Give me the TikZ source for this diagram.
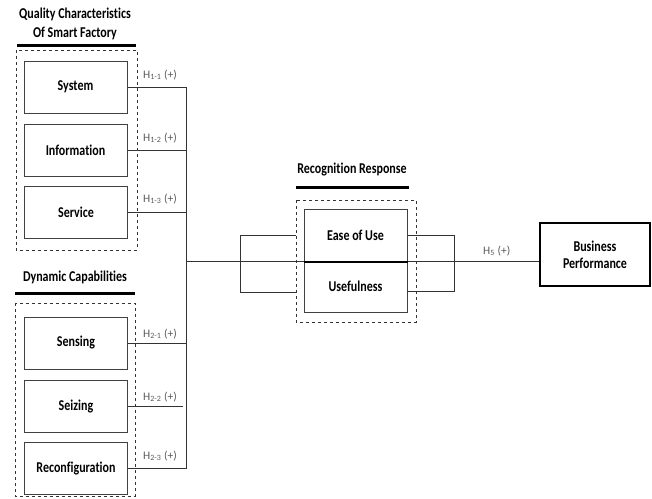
\documentclass[tikz,border=0pt]{standalone}
\usepackage{fontspec}
\setmainfont{Carlito}
\newfontfamily\condfont[FakeStretch=0.8,Ligatures=NoCommon]{Carlito}
\begin{document}
\begin{tikzpicture}[x=1pt,y=-1pt, line cap=butt,
 box/.style={draw=black!75, line width=1pt, minimum width=103pt, minimum height=52pt, inner sep=0pt, font=\condfont\bfseries\fontsize{15}{17}\selectfont},
 grp/.style={draw=black!80, dashed, line width=0.8pt},
 ttl/.style={font=\condfont\bfseries\fontsize{15}{18.5}\selectfont, align=center, inner sep=0pt},
 uline/.style={line width=3pt},
 conn/.style={draw=black!80, line width=0.9pt},
 hlab/.style={font=\fontsize{11.5}{13}\selectfont, text=black!65, inner sep=0pt, anchor=base west}]
\useasboundingbox (0,0) rectangle (652,498);

% titles
\node[ttl] (t1) at (75,24) {Quality Characteristics\\Of Smart Factory};
\draw[uline] (17,45) -- (136,45);
\node[ttl] (t2) at (75,277) {Dynamic Capabilities};
\draw[uline] (15,293) -- (135,293);
\node[ttl] (t3) at (352,170) {Recognition Response};
\draw[uline] (296,187) -- (409,187);

% dashed groups
\draw[grp] (16,50) rectangle (137,250);
\draw[grp] (15,303) rectangle (135,496);
\draw[grp] (296,200) rectangle (416,322);

% boxes
\node[box] (sys) at (75.5,87) {System};
\node[box] (inf) at (75.5,150) {Information};
\node[box] (srv) at (76,212) {Service};
\node[box] (sen) at (76,343) {Sensing};
\node[box] (sei) at (76,406) {Seizing};
\node[box] (rcf) at (76,468.5) {Reconfiguration};
\node[box] (eou) at (355.5,235) {Ease of Use};
\node[box, minimum height=51pt] (use) at (355.5,286.5) {Usefulness};
\node[box, draw=black, line width=2.5pt, minimum width=110pt, minimum height=63pt, align=center] (bp) at (595,254.5) {Business\\Performance};
\draw[black, line width=2pt] (eou.south west) -- (eou.south east);

% connectors
\coordinate (vx) at (186,0);
\draw[conn] (sys.east) -- (sys.east -| vx);
\draw[conn] (inf.east) -- (inf.east -| vx);
\draw[conn] (srv.east) -- (srv.east -| vx);
\draw[conn] (sen.east) -- (sen.east -| vx);
\draw[conn] (sei.east) -- ([xshift=-3pt]sei.east -| vx);
\draw[conn] (rcf.east) -- (rcf.east -| vx);
\draw[conn] (sys.east -| vx) -- (rcf.east -| vx);
\draw[conn] (vx |- eou.south) -- (eou.south west);
\coordinate (lbt) at (240,235);
\coordinate (lbb) at (240,292);
\coordinate (dlt) at (296,235);
\coordinate (dlb) at (296,292);
\draw[conn] (dlt) -- (lbt) -- (lbb) -- (dlb);
\coordinate (rbt) at (454,235);
\coordinate (rbb) at (454,291);
\coordinate (ubr) at (407,291);
\draw[conn] (eou.east) -- (rbt) -- (rbb) -- (ubr);
\draw[conn] (eou.south east) -- (bp.west |- eou.south east);

% labels
\node[hlab] (l11) at (143,78) {H\textsubscript{1-1} (+)};
\node[hlab] (l12) at (143,141) {H\textsubscript{1-2} (+)};
\node[hlab] (l13) at (143,202) {H\textsubscript{1-3} (+)};
\node[hlab] (l21) at (143,337) {H\textsubscript{2-1} (+)};
\node[hlab] (l22) at (143,400) {H\textsubscript{2-2} (+)};
\node[hlab] (l23) at (143,459) {H\textsubscript{2-3} (+)};
\node[hlab] (l5) at (483,254) {H\textsubscript{5} (+)};
\end{tikzpicture}
\end{document}
